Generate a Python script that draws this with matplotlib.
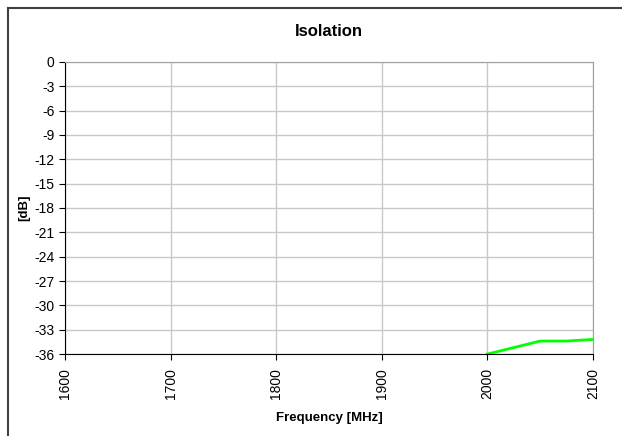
import matplotlib
matplotlib.use("Agg")
import matplotlib.pyplot as plt
from matplotlib.lines import Line2D

plt.rcParams['font.family'] = ['Liberation Sans', 'DejaVu Sans']
plt.rcParams['axes.unicode_minus'] = False

# data
freq = [2000, 2025, 2050, 2075, 2100]
isolation = [-36.0, -35.2, -34.4, -34.4, -34.2]
xticks = [1600, 1700, 1800, 1900, 2000, 2100]
yticks = list(range(-36, 1, 3))

fig = plt.figure(figsize=(6.22, 4.36), dpi=100)
ax = fig.add_axes([0.1045, 0.188, 0.849, 0.670])

ax.plot(freq, isolation, color='#00ff00', lw=2, clip_on=True)

ax.set_xlim(1600, 2100)
ax.set_ylim(-36, 0)
ax.set_xticks(xticks)
ax.set_yticks(yticks)
ax.tick_params(axis='x', labelrotation=90, labelsize=10, length=4, direction='out', pad=6)
ax.tick_params(axis='y', labelsize=10, length=4, direction='out')
ax.grid(True, color='#c8c8c8', lw=1)
ax.set_axisbelow(True)

for s in ['top', 'right']:
    ax.spines[s].set_color('#a0a0a0')
for s in ['left', 'bottom']:
    ax.spines[s].set_color('black')

ax.set_title('Isolation', fontsize=12, fontweight='bold', pad=19)
ax.set_xlabel('Frequency [MHz]', fontsize=9.5, fontweight='bold', labelpad=9)
ax.set_ylabel('[dB]', fontsize=9.5, fontweight='bold', labelpad=3)

# outer chart border (partially visible)
fig.add_artist(Line2D([8/622, 8/622], [0, 1 - 8/436], color='#404040', lw=1.5))
fig.add_artist(Line2D([8/622, 1], [1 - 8/436, 1 - 8/436], color='#404040', lw=1.5))

fig.savefig('out.png', dpi=100)
